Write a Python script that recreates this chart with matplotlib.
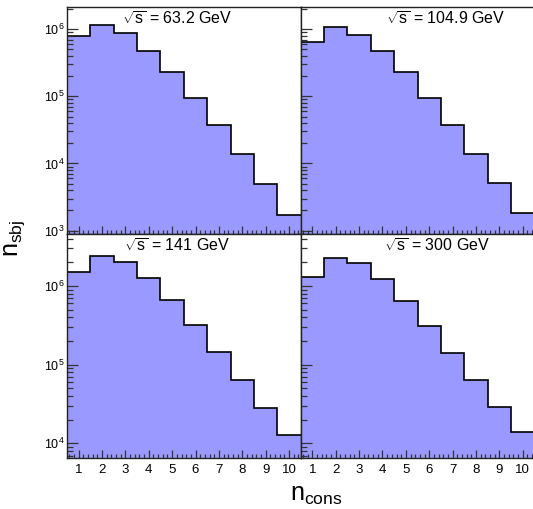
import numpy as np
import matplotlib
matplotlib.use("Agg")
import matplotlib.pyplot as plt
from matplotlib.ticker import FixedLocator, LogLocator, NullFormatter, MultipleLocator

plt.rcParams['font.family'] = ['Liberation Sans', 'DejaVu Sans']
plt.rcParams['mathtext.fontset'] = 'custom'
plt.rcParams['mathtext.rm'] = 'Liberation Sans'
plt.rcParams['mathtext.it'] = 'Liberation Sans'

# constituent multiplicity bins
n_cons = np.arange(1, 11)
edges = np.arange(0.5, 11.5, 1.0)

# subjet counts per bin
counts_63 = [8.0e5, 1.15e6, 8.7e5, 4.8e5, 2.3e5, 9.4e4, 3.7e4, 1.39e4, 5.0e3, 1.7e3]
counts_105 = [6.45e5, 1.06e6, 8.3e5, 4.77e5, 2.28e5, 9.4e4, 3.7e4, 1.38e4, 5.1e3, 1.86e3]
counts_141 = [1.52e6, 2.43e6, 2.02e6, 1.27e6, 6.7e5, 3.22e5, 1.46e5, 6.4e4, 2.8e4, 1.27e4]
counts_300 = [1.29e6, 2.24e6, 1.94e6, 1.23e6, 6.5e5, 3.13e5, 1.41e5, 6.4e4, 2.9e4, 1.38e4]

labels = [r"$\sqrt{\mathrm{s}}$ = 63.2 GeV", r"$\sqrt{\mathrm{s}}$ = 104.9 GeV",
          r"$\sqrt{\mathrm{s}}$ = 141 GeV", r"$\sqrt{\mathrm{s}}$ = 300 GeV"]

W, H = 533, 509
fig = plt.figure(figsize=(W / 100, H / 100), dpi=100)

x0, xm, x1 = 67, 300.7, 534.4
ytop, ymid, ybot = 7, 234, 458.3

def box(l, t, r, b):
    return [l / W, 1 - b / H, (r - l) / W, (b - t) / H]

axes = [fig.add_axes(box(x0, ytop, xm, ymid)), fig.add_axes(box(xm, ytop, x1, ymid)),
        fig.add_axes(box(x0, ymid, xm, ybot)), fig.add_axes(box(xm, ymid, x1, ybot))]
data = [counts_63, counts_105, counts_141, counts_300]
ylims = [(10**2.95, 10**6.33), (10**2.95, 10**6.33), (10**3.81, 10**6.66), (10**3.81, 10**6.66)]
text_x = [0.47, 0.62, 0.47, 0.585]

for i, ax in enumerate(axes):
    ax.stairs(data[i], edges, fill=True, color='#9999ff', baseline=1)
    ax.stairs(data[i], edges, baseline=None, color='black', lw=1.2)
    ax.set_yscale('log')
    ax.set_xlim(0.5, 10.5)
    ax.set_ylim(*ylims[i])
    ax.xaxis.set_major_locator(FixedLocator(n_cons))
    ax.xaxis.set_minor_locator(MultipleLocator(0.2))
    ax.yaxis.set_major_locator(LogLocator(base=10, numticks=10))
    ax.yaxis.set_minor_locator(LogLocator(base=10, subs=np.arange(2, 10), numticks=10))
    ax.yaxis.set_minor_formatter(NullFormatter())
    ax.tick_params(which='both', direction='in', top=False, right=False, width=0.9, color='#333333')
    ax.tick_params(axis='y', which='major', length=8, labelsize=9, pad=2)
    ax.tick_params(axis='y', which='minor', length=4)
    ax.tick_params(axis='x', which='major', length=6, labelsize=9.5, pad=4)
    ax.tick_params(axis='x', which='minor', length=3)
    for s in ax.spines.values():
        s.set_color('#222222')
        s.set_linewidth(1.0)
    if i in (1, 3):
        ax.set_yticklabels([])
    if i in (0, 1):
        ax.set_xticklabels([])
    ax.text(text_x[i], 0.945, labels[i], transform=ax.transAxes, ha='center', va='center', fontsize=11.5)

fig.text(0.028, 0.532, r"n$_{\mathrm{sbj}}$", rotation=90, ha='center', va='center', fontsize=18)
fig.text(0.593, 0.027, r"n$_{\mathrm{cons}}$", ha='center', va='center', fontsize=18)

fig.savefig("out.png", dpi=100)
